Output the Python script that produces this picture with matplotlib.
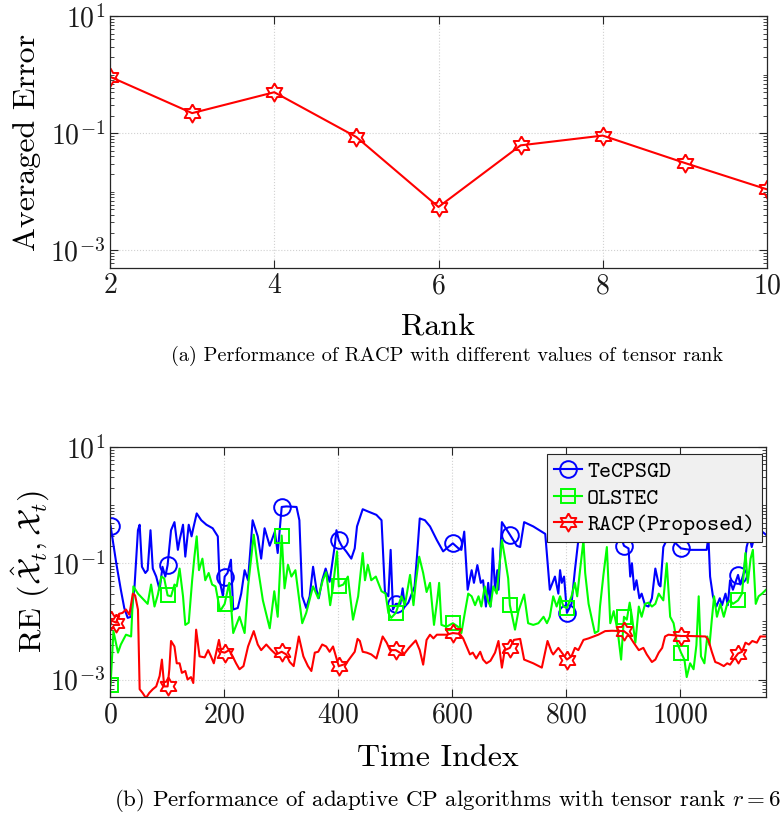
import numpy as np
import matplotlib
matplotlib.use("Agg")
import matplotlib.pyplot as plt
from matplotlib.ticker import FixedLocator, LogLocator, LogFormatterSciNotation, NullFormatter

plt.rcParams['font.family'] = ['cmr10', 'DejaVu Serif']
plt.rcParams['mathtext.fontset'] = 'cm'
plt.rcParams['axes.formatter.use_mathtext'] = True
plt.rcParams['axes.unicode_minus'] = False

# ---------------- data: (a) ----------------
rank = [2, 3, 4, 5, 6, 7, 8, 9, 10]
avg_error = [0.92, 0.22, 0.50, 0.086, 0.0055, 0.062, 0.091, 0.031, 0.011]

# ---------------- data: (b) ----------------
tecpsgd_t = [1, 11, 19, 25, 31, 37, 43, 49, 52, 56, 62, 66, 71, 75, 81, 87, 92, 97, 101, 107, 113, 119, 122,
             128, 132, 138, 143, 146, 152, 160, 169, 180, 189, 192, 198, 201, 206, 212, 216, 224, 230, 236, 242,
             250, 259, 265, 271, 280, 289, 294, 301, 309, 327, 332, 337, 344, 350, 356, 362, 366, 372, 378, 385,
             394, 397, 401, 406, 414, 423, 429, 433, 443, 452, 467, 476, 482, 488, 492, 496, 501, 509, 513, 517,
             523, 534, 539, 543, 552, 561, 573, 584, 590, 601, 611, 616, 621, 627, 634, 638, 644, 650, 654, 659,
             663, 667, 671, 675, 679, 681, 687, 701, 713, 719, 726, 742, 763, 771, 780, 786, 789, 792, 796, 801,
             809, 815, 821, 826, 835, 850, 870, 890, 895, 901, 909, 912, 915, 919, 923, 928, 932, 938, 944, 950,
             956, 962, 965, 970, 979, 1001, 1017, 1046, 1049, 1052, 1057, 1063, 1069, 1073, 1079, 1083, 1087,
             1092, 1101, 1105, 1111, 1116, 1121, 1125, 1131, 1140, 1150]
tecpsgd_re = [0.44, 0.10, 0.035, 0.017, 0.0115, 0.012, 0.040, 0.37, 0.46, 0.087, 0.068, 0.076, 0.37, 0.081,
              0.059, 0.035, 0.087, 0.059, 0.093, 0.37, 0.51, 0.17, 0.25, 0.46, 0.13, 0.46, 0.29, 0.40, 0.72, 0.55,
              0.46, 0.40, 0.29, 0.051, 0.027, 0.059, 0.068, 0.115, 0.016, 0.017, 0.030, 0.076, 0.051, 0.55, 0.29,
              0.12, 0.40, 0.20, 0.35, 0.15, 0.93, 0.95, 0.93, 0.55, 0.027, 0.017, 0.027, 0.087, 0.035, 0.025,
              0.051, 0.081, 0.048, 0.20, 0.37, 0.25, 0.20, 0.16, 0.12, 0.18, 0.43, 0.85, 0.78, 0.68, 0.55, 0.032,
              0.027, 0.17, 0.016, 0.020, 0.020, 0.037, 0.018, 0.021, 0.040, 0.17, 0.59, 0.55, 0.43, 0.25, 0.16,
              0.18, 0.22, 0.18, 0.17, 0.35, 0.035, 0.076, 0.046, 0.093, 0.046, 0.051, 0.018, 0.046, 0.018, 0.18,
              0.035, 0.076, 0.035, 0.51, 0.31, 0.20, 0.19, 0.51, 0.43, 0.32, 0.035, 0.059, 0.030, 0.076, 0.046,
              0.059, 0.014, 0.020, 0.076, 0.25, 0.35, 0.45, 0.45, 0.40, 0.40, 0.30, 0.20, 0.18, 0.059, 0.10,
              0.035, 0.051, 0.025, 0.030, 0.019, 0.018, 0.025, 0.081, 0.043, 0.040, 0.19, 0.29, 0.18, 0.17, 0.17,
              0.29, 0.059, 0.027, 0.018, 0.025, 0.019, 0.030, 0.019, 0.051, 0.035, 0.063, 0.043, 0.068, 0.19,
              0.29, 0.19, 0.32, 0.37, 0.31]

olstec_t = [1, 6, 14, 19, 28, 37, 41, 49, 60, 66, 72, 78, 84, 90, 95, 101, 107, 113, 117, 122, 128, 132, 138,
            144, 148, 152, 156, 162, 167, 173, 179, 185, 193, 201, 209, 216, 227, 236, 242, 252, 259, 268, 280,
            288, 294, 301, 306, 312, 318, 325, 337, 344, 356, 365, 373, 379, 386, 391, 398, 401, 409, 417, 426,
            435, 443, 447, 452, 458, 466, 476, 483, 488, 493, 501, 511, 517, 526, 532, 536, 542, 549, 555, 561,
            568, 574, 577, 581, 590, 601, 610, 616, 622, 628, 634, 640, 646, 651, 657, 663, 667, 672, 678, 682,
            687, 692, 698, 701, 710, 716, 726, 733, 742, 751, 760, 766, 771, 777, 783, 789, 795, 801, 809, 815,
            819, 824, 830, 833, 839, 845, 850, 856, 859, 865, 871, 877, 883, 890, 896, 901, 906, 911, 915, 921,
            927, 932, 938, 944, 950, 956, 962, 965, 970, 976, 982, 988, 994, 1001, 1007, 1011, 1017, 1023, 1028,
            1032, 1036, 1042, 1047, 1051, 1055, 1059, 1064, 1070, 1076, 1082, 1087, 1092, 1101, 1108, 1114,
            1118, 1123, 1127, 1132, 1137, 1143, 1150]
olstec_re = [0.00079, 0.0068, 0.0029, 0.0040, 0.0059, 0.0055, 0.040, 0.030, 0.023, 0.020, 0.043, 0.018, 0.029,
             0.059, 0.055, 0.028, 0.027, 0.043, 0.040, 0.081, 0.027, 0.0087, 0.0095, 0.051, 0.13, 0.29, 0.076,
             0.12, 0.051, 0.068, 0.043, 0.040, 0.015, 0.020, 0.046, 0.0063, 0.012, 0.0063, 0.040, 0.31, 0.087,
             0.023, 0.0076, 0.033, 0.012, 0.30, 0.037, 0.094, 0.059, 0.076, 0.0093, 0.014, 0.040, 0.025, 0.051,
             0.070, 0.019, 0.040, 0.16, 0.040, 0.043, 0.059, 0.0107, 0.027, 0.15, 0.051, 0.094, 0.051, 0.059,
             0.033, 0.030, 0.014, 0.0115, 0.014, 0.027, 0.019, 0.063, 0.019, 0.046, 0.13, 0.068, 0.032, 0.046,
             0.0087, 0.025, 0.046, 0.0087, 0.0081, 0.0093, 0.0081, 0.0063, 0.014, 0.030, 0.027, 0.019, 0.027,
             0.018, 0.040, 0.022, 0.018, 0.040, 0.030, 0.076, 0.25, 0.13, 0.055, 0.019, 0.0072, 0.015, 0.029,
             0.0093, 0.0087, 0.0093, 0.012, 0.0093, 0.012, 0.027, 0.018, 0.027, 0.018, 0.017, 0.027, 0.046,
             0.027, 0.076, 0.25, 0.068, 0.020, 0.0107, 0.0063, 0.0068, 0.018, 0.063, 0.19, 0.0093, 0.015,
             0.0068, 0.0022, 0.012, 0.0107, 0.021, 0.012, 0.0043, 0.018, 0.012, 0.020, 0.021, 0.018, 0.020,
             0.030, 0.027, 0.023, 0.10, 0.012, 0.0093, 0.0043, 0.0029, 0.0022, 0.0011, 0.0019, 0.0015, 0.0039,
             0.027, 0.0025, 0.0019, 0.0055, 0.0039, 0.0107, 0.027, 0.012, 0.020, 0.012, 0.020, 0.023, 0.020,
             0.023, 0.030, 0.15, 0.046, 0.12, 0.17, 0.020, 0.027, 0.030, 0.035]

racp_t = [1, 11, 16, 22, 28, 34, 40, 44, 49, 52, 57, 63, 69, 75, 81, 87, 91, 95, 101, 104, 107, 113, 117, 122,
          126, 132, 136, 142, 146, 151, 157, 166, 172, 177, 182, 187, 191, 195, 201, 209, 215, 221, 227, 234,
          242, 252, 259, 265, 274, 283, 291, 301, 309, 315, 322, 331, 339, 347, 353, 359, 365, 372, 379, 385,
          391, 396, 401, 409, 414, 423, 429, 434, 438, 443, 450, 458, 467, 473, 478, 485, 491, 501, 508, 515,
          524, 536, 543, 549, 555, 561, 567, 573, 581, 590, 601, 613, 619, 625, 631, 636, 642, 649, 654, 660,
          667, 675, 681, 687, 692, 701, 708, 719, 726, 742, 757, 763, 767, 774, 777, 786, 792, 801, 809, 815,
          821, 830, 839, 848, 856, 868, 880, 901, 909, 918, 927, 935, 941, 950, 956, 962, 968, 973, 979, 1001,
          1017, 1044, 1049, 1055, 1061, 1067, 1076, 1082, 1087, 1093, 1101, 1108, 1114, 1120, 1126, 1134,
          1140, 1150]
racp_re = [0.0105, 0.0095, 0.0135, 0.014, 0.016, 0.013, 0.030, 0.028, 0.016, 0.00068, 0.00059, 0.00048,
           0.00059, 0.00068, 0.00076, 0.00115, 0.0022, 0.00076, 0.00076, 0.0015, 0.0046, 0.0037, 0.0019, 0.0019,
           0.0013, 0.0014, 0.0010, 0.0011, 0.00087, 0.0072, 0.0025, 0.0024, 0.0032, 0.0025, 0.0019, 0.0032,
           0.0048, 0.0030, 0.0029, 0.0032, 0.0025, 0.0019, 0.0015, 0.0017, 0.0037, 0.0068, 0.0040, 0.0032,
           0.0040, 0.0032, 0.0027, 0.0030, 0.0027, 0.0020, 0.0017, 0.0055, 0.0025, 0.0017, 0.0014, 0.0029,
           0.0030, 0.0040, 0.0037, 0.0030, 0.0037, 0.0025, 0.0017, 0.0018, 0.0019, 0.0025, 0.0030, 0.0050,
           0.0046, 0.0030, 0.0029, 0.0027, 0.0023, 0.0037, 0.0055, 0.0043, 0.0032, 0.0032, 0.0029, 0.0027,
           0.0035, 0.0047, 0.0032, 0.0018, 0.0048, 0.0059, 0.0051, 0.0059, 0.0059, 0.0059, 0.0063, 0.0061,
           0.0051, 0.0037, 0.0027, 0.0029, 0.0023, 0.0030, 0.0022, 0.0019, 0.0021, 0.0029, 0.0046, 0.0016,
           0.0032, 0.0035, 0.0048, 0.0050, 0.0022, 0.0019, 0.0016, 0.0030, 0.0046, 0.0030, 0.0027, 0.0035,
           0.0029, 0.0022, 0.0025, 0.0035, 0.0032, 0.0048, 0.0051, 0.0055, 0.0059, 0.0068, 0.0069, 0.0068,
           0.0059, 0.0043, 0.0032, 0.0035, 0.0027, 0.0020, 0.0022, 0.0029, 0.0035, 0.0055, 0.0059, 0.0056,
           0.0056, 0.0055, 0.0048, 0.0030, 0.0020, 0.0019, 0.0017, 0.0019, 0.0018, 0.0022, 0.0028, 0.0030,
           0.0043, 0.0040, 0.0046, 0.0043, 0.0055, 0.0055]

marker_t = [1, 101, 201, 301, 401, 501, 601, 701, 801, 901, 1001, 1101]
racp_marker_t = [1, 11] + marker_t[1:]

labels_b = ['TeCPSGD', 'OLSTEC', 'RACP(Proposed)']
xticks_b = [0, 200, 400, 600, 800, 1000]
xticks_a = [2, 4, 6, 8, 10]
yticks = [1e-3, 1e-1, 1e1]

# hexagram marker shape
ang_out = np.deg2rad(90 + 60 * np.arange(6))
ang_in = ang_out + np.deg2rad(30)
hexagram = []
for ao, ai in zip(ang_out, ang_in):
    hexagram.append((np.cos(ao), np.sin(ao)))
    hexagram.append((np.cos(ai) / np.sqrt(3), np.sin(ai) / np.sqrt(3)))
hexagram.append(hexagram[0])

W, H = 783, 822
fig = plt.figure(figsize=(W / 100, H / 100), dpi=100)
ax1 = fig.add_axes([110 / W, 1 - 268 / H, 657 / W, 252 / H])
ax2 = fig.add_axes([110 / W, 1 - 697 / H, 656 / W, 250 / H])

AXC = '0.15'


def style(ax):
    ax.set_yscale('log')
    ax.set_ylim(5e-4, 10)
    ax.yaxis.set_major_locator(FixedLocator(yticks))
    ax.yaxis.set_major_formatter(LogFormatterSciNotation())
    ax.yaxis.set_minor_locator(LogLocator(base=10, subs=np.arange(1, 10), numticks=50))
    ax.yaxis.set_minor_formatter(NullFormatter())
    ax.tick_params(which='both', direction='in', top=True, right=True, colors=AXC, labelcolor='0.1',
                   labelsize=20)
    ax.tick_params(which='major', length=6, width=0.8)
    ax.tick_params(which='minor', length=3, width=0.6)
    ax.tick_params(axis='x', which='minor', bottom=False, top=False)
    for s in ax.spines.values():
        s.set_color(AXC)
        s.set_linewidth(0.9)
    ax.grid(True, which='major', linestyle=':', color='0.82', linewidth=0.8)
    ax.set_axisbelow(True)


style(ax1)
ax1.plot(rank, avg_error, color='red', lw=1.5, marker=hexagram, ms=13, mfc='none', mec='red', mew=1.4)
ax1.set_xlim(2, 10)
ax1.set_xticks(xticks_a)
ax1.set_xlabel('Rank', fontsize=23, labelpad=10)
ax1.set_ylabel('Averaged Error', fontsize=23)
ax1.yaxis.set_label_coords(-0.105, 0.5)

style(ax2)
series = [
    (tecpsgd_t, tecpsgd_re, (0, 0, 1), 'o', 12, marker_t),
    (olstec_t, olstec_re, (0, 1, 0), 's', 10, marker_t),
    (racp_t, racp_re, (1, 0, 0), hexagram, 13, racp_marker_t),
]
for (t, v, c, m, ms, mt), lab in zip(series, labels_b):
    idx = [i for i, tt in enumerate(t) if tt in mt]
    ax2.plot(t, v, color=c, lw=1.5, marker=m, ms=ms, mfc='none', mec=c, mew=1.4, markevery=idx, label=lab)
ax2.set_xlim(0, 1150)
ax2.set_xticks(xticks_b)
ax2.set_xlabel('Time Index', fontsize=23, labelpad=12)
ax2.set_ylabel(r'RE $(\hat{\mathcal{X}}_t,\mathcal{X}_t)$', fontsize=23)
ax2.yaxis.set_label_coords(-0.088, 0.5)
leg = ax2.legend(loc='upper right', bbox_to_anchor=(0.994, 0.972), prop={'family': 'cmtt10', 'size': 16.5},
                 fancybox=False, framealpha=1, facecolor='0.94', edgecolor='0.15', handlelength=1.25,
                 handletextpad=0.2, borderpad=0.3, labelspacing=0.25, borderaxespad=0, markerscale=1.0)
leg.get_frame().set_linewidth(0.8)

fig.text(447 / W, 1 - 356 / H, '(a) Performance of RACP with different values of tensor rank',
         ha='center', va='center', fontsize=14.6)
fig.text(447 / W, 1 - 800 / H, r'(b) Performance of adaptive CP algorithms with tensor rank $r = 6$',
         ha='center', va='center', fontsize=16.5)

fig.savefig('out.png', dpi=100)
